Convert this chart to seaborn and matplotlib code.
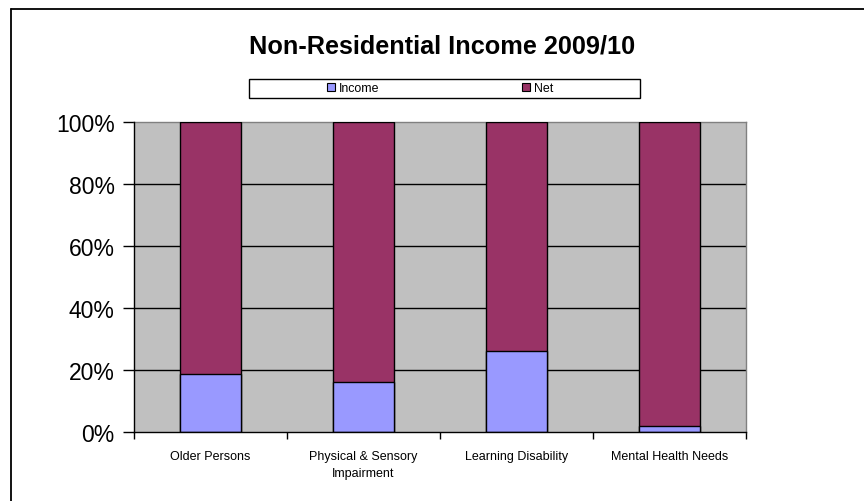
import matplotlib
matplotlib.use("Agg")
import matplotlib.pyplot as plt
from matplotlib.patches import Patch, Rectangle
from matplotlib.lines import Line2D
from matplotlib.ticker import FixedLocator, NullFormatter, FuncFormatter
import seaborn as sns
import pandas as pd

# Share of non-residential cost recovered through income, by client group (%)
categories = ["Older Persons", "Physical & Sensory\nImpairment",
              "Learning Disability", "Mental Health Needs"]
income_pct = [18.7, 16.2, 26.2, 2.0]
net_pct = [100 - v for v in income_pct]
series_names = ["Income", "Net"]

income_color = "#9999FF"
net_color = "#993366"
plot_bg = "#C0C0C0"

sns.set_theme(style="white")
plt.rcParams["font.family"] = ["Liberation Sans", "DejaVu Sans"]
plt.rcParams["text.color"] = "black"
plt.rcParams["xtick.color"] = "black"
plt.rcParams["ytick.color"] = "black"

df = pd.DataFrame({
    "group": categories,
    "income": income_pct,
    "net": net_pct,
})
df["total"] = df["income"] + df["net"]

fig = plt.figure(figsize=(8.64, 5.02), dpi=100)
ax = fig.add_axes([134 / 864, 1 - 433 / 502, 612 / 864, 310 / 502])
ax.set_facecolor(plot_bg)

# Stacked 100% bars: full column in the Net colour, Income laid over its base
sns.barplot(data=df, x="group", y="total", color=net_color, width=0.4,
            edgecolor="black", linewidth=1.0, saturation=1, ax=ax, zorder=3)
sns.barplot(data=df, x="group", y="income", color=income_color, width=0.4,
            edgecolor="black", linewidth=1.0, saturation=1, ax=ax, zorder=4)

ax.set_xlim(-0.5, len(categories) - 0.5)
ax.set_ylim(0, 100)
ax.set_xlabel("")
ax.set_ylabel("")

# y axis: percentages with outward ticks, black gridlines
ax.set_yticks([0, 20, 40, 60, 80, 100])
ax.yaxis.set_major_formatter(FuncFormatter(lambda v, _: f"{v:.0f}%"))
ax.tick_params(axis="y", which="major", direction="out", length=8, width=1,
               color="black", labelcolor="black", pad=6, labelsize=16.5,
               left=True)
for yv in [20, 40, 60, 80]:
    ax.axhline(yv, color="black", linewidth=1.0, zorder=1)

# x axis: labels at category centres, tick marks between categories
ax.tick_params(axis="x", which="major", length=0, pad=13, labelsize=9,
               labelcolor="black")
for lbl in ax.get_xticklabels():
    lbl.set_linespacing(1.6)
ax.xaxis.set_minor_locator(FixedLocator([-0.5, 0.5, 1.5, 2.5, 3.5]))
ax.xaxis.set_minor_formatter(NullFormatter())
ax.tick_params(axis="x", which="minor", direction="out", length=5, width=1,
               color="black", bottom=True)

for side in ["top", "right"]:
    ax.spines[side].set_color("#808080")
    ax.spines[side].set_linewidth(1.0)
for side in ["left", "bottom"]:
    ax.spines[side].set_color("black")
    ax.spines[side].set_linewidth(1.0)
    ax.spines[side].set_zorder(5)

# Title
fig.text(442 / 864, 1 - 47 / 502, "Non-Residential Income 2009/10",
         ha="center", va="center", fontsize=18.2, fontweight="bold",
         color="black")

# Legend: boxed strip under the title
fig.add_artist(Rectangle((249 / 864, 1 - 99 / 502), 391 / 864, 19 / 502,
                         transform=fig.transFigure, facecolor="white",
                         edgecolor="black", linewidth=1.0))
handles = [Patch(facecolor=income_color, edgecolor="black", linewidth=0.8),
           Patch(facecolor=net_color, edgecolor="black", linewidth=0.8)]
leg = fig.legend(handles, series_names, loc="center",
                 bbox_to_anchor=(440 / 864, 1 - 89.5 / 502), ncol=2,
                 frameon=False, fontsize=8.9, handlelength=0.65,
                 handleheight=0.65, handletextpad=0.3, columnspacing=11.6,
                 borderpad=0)
for t in leg.get_texts():
    t.set_color("black")

# Outer chart-area border (top and left edges)
fig.add_artist(Line2D([11 / 864, 11 / 864], [0, 1 - 10 / 502],
                      transform=fig.transFigure, color="black", linewidth=1.3))
fig.add_artist(Line2D([11 / 864, 1], [1 - 10 / 502, 1 - 10 / 502],
                      transform=fig.transFigure, color="black", linewidth=1.3))

fig.savefig("out.png", dpi=100, facecolor="white")
